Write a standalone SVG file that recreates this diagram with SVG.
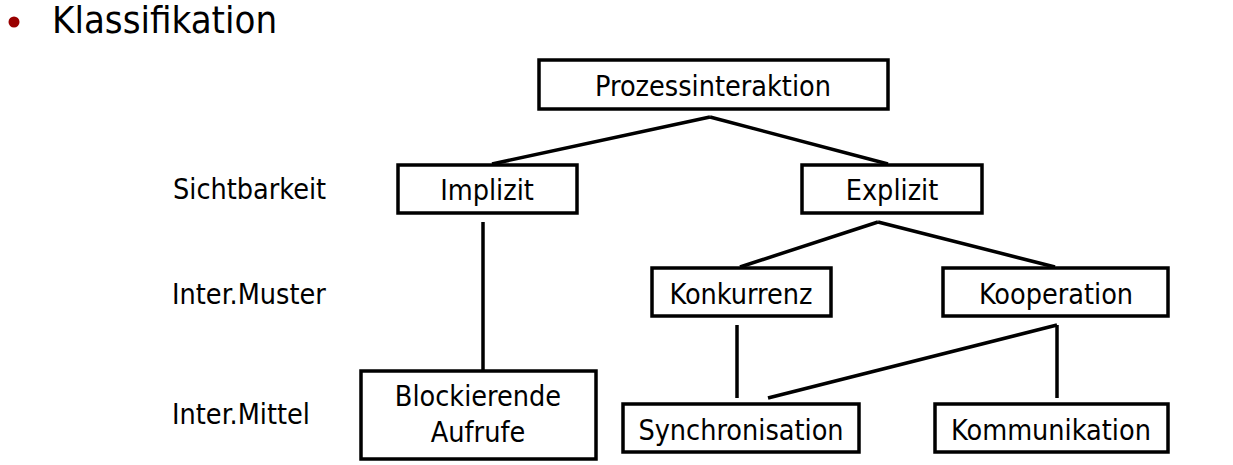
<svg xmlns="http://www.w3.org/2000/svg" width="1233" height="465" viewBox="0 0 1233 465">
<style>
.box{fill:#fff;stroke:#000;stroke-width:3.5}
.t{font-family:"DejaVu Sans Condensed","DejaVu Sans",sans-serif;font-stretch:condensed;font-size:28.5px;fill:#000;text-anchor:middle}
.lbl{font-family:"DejaVu Sans Condensed","DejaVu Sans",sans-serif;font-stretch:condensed;font-size:28.5px;fill:#000}
.c{stroke:#000;stroke-width:3.5;fill:none}
</style>
<rect width="1233" height="465" fill="#fff"/>
<circle cx="14" cy="22" r="5.5" fill="#990000"/>
<text x="52" y="33" class="lbl" style="font-size:38px">Klassifikation</text>
<text x="173" y="199" class="lbl">Sichtbarkeit</text>
<text x="172" y="304" class="lbl">Inter.Muster</text>
<text x="172" y="424" class="lbl">Inter.Mittel</text>
<g id="connectors">
<line class="c" x1="710" y1="117" x2="492" y2="164"/>
<line class="c" x1="710" y1="117" x2="888" y2="164"/>
<line class="c" x1="483" y1="222" x2="483" y2="371"/>
<line class="c" x1="878" y1="222" x2="740" y2="267"/>
<line class="c" x1="878" y1="222" x2="1055" y2="267"/>
<line class="c" x1="737" y1="325" x2="737" y2="398"/>
<line class="c" x1="1057" y1="325" x2="768" y2="398"/>
<line class="c" x1="1057" y1="325" x2="1057" y2="398"/>
</g>
<g id="prozessinteraktion"><rect class="box" x="539" y="60" width="349" height="49"/><text class="t" x="713" y="96">Prozessinteraktion</text></g>
<g id="implizit"><rect class="box" x="398" y="165" width="179" height="48"/><text class="t" x="487" y="200">Implizit</text></g>
<g id="explizit"><rect class="box" x="802" y="165" width="180" height="48"/><text class="t" x="892" y="200">Explizit</text></g>
<g id="konkurrenz"><rect class="box" x="652" y="268" width="179" height="48"/><text class="t" x="741" y="304">Konkurrenz</text></g>
<g id="kooperation"><rect class="box" x="943" y="268" width="225" height="48"/><text class="t" x="1056" y="304">Kooperation</text></g>
<g id="blockierende"><rect class="box" x="361" y="371" width="235" height="88"/><text class="t" x="478" y="406">Blockierende</text><text class="t" x="478" y="442">Aufrufe</text></g>
<g id="synchronisation"><rect class="box" x="623" y="404" width="236" height="48"/><text class="t" x="741" y="440">Synchronisation</text></g>
<g id="kommunikation"><rect class="box" x="935" y="404" width="233" height="48"/><text class="t" x="1051" y="440">Kommunikation</text></g>
</svg>
